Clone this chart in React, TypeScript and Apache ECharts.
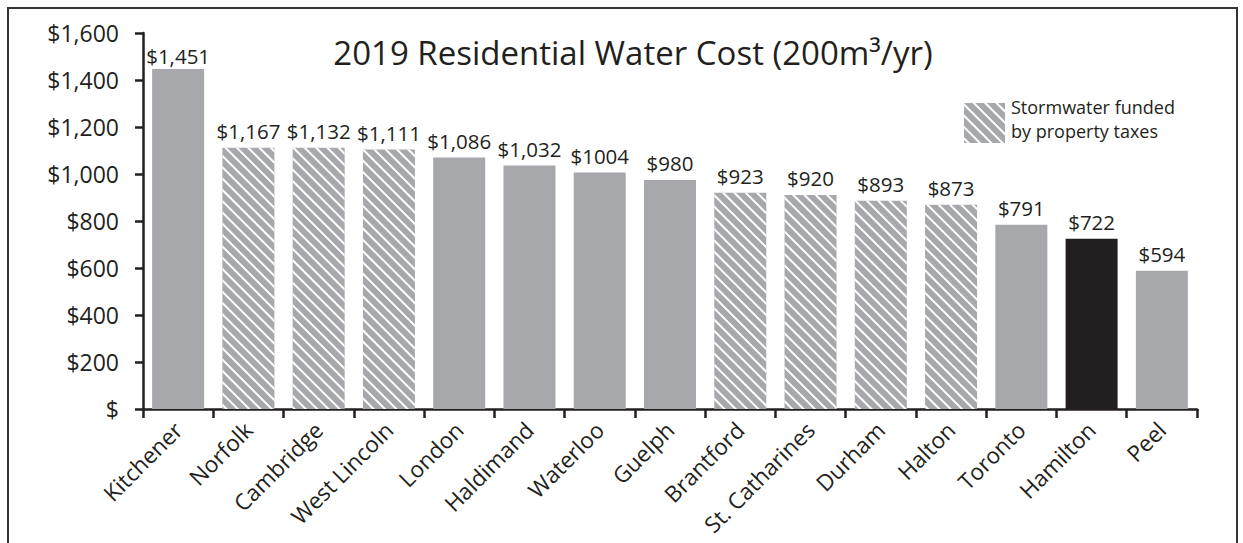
import React, { useEffect, useRef } from "react";
import * as echarts from "echarts";

const categories = [
  "Kitchener", "Norfolk", "Cambridge", "West Lincoln", "London", "Haldimand", "Waterloo",
  "Guelph", "Brantford", "St. Catharines", "Durham", "Halton", "Toronto", "Hamilton", "Peel",
];
// bar heights as drawn
const barValues = [1447, 1112, 1112, 1104, 1070, 1036, 1006, 975, 920, 911, 886, 869, 784, 724, 588];
// value labels as printed
const valueLabels = [
  "$1,451", "$1,167", "$1,132", "$1,111", "$1,086", "$1,032", "$1004",
  "$980", "$923", "$920", "$893", "$873", "$791", "$722", "$594",
];
// stormwater funded by property taxes
const hatched = [false, true, true, true, false, false, false, false, true, true, true, true, false, false, false];
const highlight = "Hamilton";
const yTicks = { min: 0, max: 1600, interval: 200 };
const legendLines = ["Stormwater funded", "by property taxes"];

const FONT = "Open Sans";
const INK = "#231f20";
const GRAY = "#a7a8ab";

export default function App() {
  const ref = useRef<HTMLDivElement>(null);
  useEffect(() => {
    if (!ref.current) return;
    const chart = echarts.init(ref.current, null, { renderer: "svg" });
    const decal = {
      symbol: "rect",
      symbolSize: 1,
      dashArrayX: [1, 0],
      dashArrayY: [1.8, 5.2],
      rotation: Math.PI / 4,
      color: "#ffffff",
    };
    const labelOpt = {
      show: true,
      position: "top",
      distance: 6,
      fontFamily: FONT,
      fontSize: 20.5,
      color: INK,
      formatter: (p: any) => valueLabels[p.dataIndex],
    };
    const hatchedData = barValues.map((v, i) => (hatched[i] ? v : "-"));
    const plainData = barValues.map((v, i) => {
      if (hatched[i]) return "-";
      const item: any = { value: v };
      if (categories[i] === highlight) item.itemStyle = { color: INK };
      if (i === 0) item.label = { distance: 2 };
      return item;
    });
    chart.setOption({
      animation: false,
      textStyle: { fontFamily: FONT },
      title: {
        text: "2019 Residential Water Cost (200m³/yr)",
        left: 628,
        textAlign: "center",
        top: 31,
        textStyle: { fontFamily: FONT, fontSize: 33, fontWeight: "normal", color: INK },
      },
      legend: {
        data: ["Stormwater funded by property taxes"],
        left: 959,
        top: 98,
        itemWidth: 41,
        itemHeight: 40,
        icon: "rect",
        selectedMode: false,
        formatter: () => "",
        textStyle: { fontFamily: FONT, fontSize: 1, color: INK },
      },
      grid: { left: 143, right: 46, top: 33, bottom: 134 },
      xAxis: {
        type: "category",
        data: categories,
        axisLine: { lineStyle: { color: INK, width: 2.5 } },
        axisTick: { show: true, length: 9, lineStyle: { color: INK, width: 2.5 } },
        axisLabel: {
          rotate: 45,
          interval: 0,
          margin: 17,
          fontFamily: FONT,
          fontSize: 22.5,
          color: INK,
        },
      },
      yAxis: {
        type: "value",
        min: yTicks.min,
        max: yTicks.max,
        interval: yTicks.interval,
        splitLine: { show: false },
        axisLine: { show: true, lineStyle: { color: INK, width: 2.5 } },
        axisTick: { show: true, length: 8, lineStyle: { color: INK, width: 2.5 } },
        axisLabel: {
          margin: 24,
          fontFamily: FONT,
          fontSize: 23,
          color: INK,
          formatter: (v: number) => (v === 0 ? "$" : "$" + v.toLocaleString("en-US")),
        },
      },
      series: [
        {
          name: "Stormwater funded by property taxes",
          type: "bar",
          data: hatchedData,
          barWidth: 52,
          barGap: "-100%",
          itemStyle: { color: GRAY, decal },
          label: labelOpt,
        },
        {
          name: "Other",
          type: "bar",
          data: plainData,
          barWidth: 52,
          barGap: "-100%",
          itemStyle: { color: GRAY },
          label: labelOpt,
        },
      ],
      graphic: [
        {
          type: "rect",
          shape: { x: 8, y: 8, width: 1229, height: 560 },
          style: { fill: "none", stroke: "#333333", lineWidth: 2 },
          silent: true,
        },
        ...legendLines.map((t, i) => ({
          type: "text",
          x: 1011,
          y: 106.5 + i * 24.5,
          silent: true,
          style: {
            text: t,
            fontFamily: FONT,
            fontSize: 18,
            fill: INK,
            align: "left",
            verticalAlign: "middle",
          },
        })),
      ],
    });
    return () => chart.dispose();
  }, []);
  return (
    <div
      ref={ref}
      style={{ position: "fixed", left: 0, top: 0, width: 1243, height: 543, background: "#fff" }}
    />
  );
}
